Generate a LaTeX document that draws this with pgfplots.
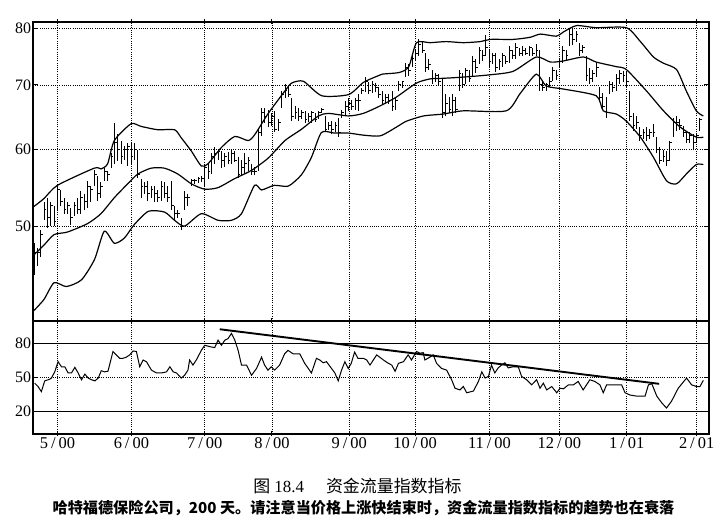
\documentclass[border=0pt]{standalone}
\usepackage{pgfplots}
\pgfplotsset{compat=1.18}
\usepackage{pgfplotstable}
\usepackage{fontspec}
\setmainfont{Liberation Serif}
\newfontfamily\cjk{Noto Sans CJK SC}
\pgfdeclareplotmark{rtick}{\pgfpathmoveto{\pgfpointorigin}\pgfpathlineto{\pgfpoint{\pgfplotmarksize}{0pt}}\pgfusepathqstroke}

\pgfplotstableread{
i h l c
0 48 44.5 47
1 47.5 45.5 47
2 49.5 46.5 49
3 53 50.7 52
4 53.5 49.8 51
5 53 50 52.5
6 52.5 50 50.5
7 55 52 54.5
8 54.5 52.5 53
9 53.5 51.5 52
10 53 51.5 52.5
11 52.2 50.1 51
12 53 51.2 52.5
13 53.5 51.5 52
14 54.4 51.5 53.5
15 54 52 53
16 55.7 52.2 55
17 55 53 54.5
18 57.1 55 56.5
19 56.4 53.1 54
20 55.5 53.5 55
21 57.4 55.7 57
22 57 55.7 56.5
23 59.5 57.4 59
24 63.9 58 61
25 62.3 58.4 60
26 61.3 58 59
27 60.5 58.5 60
28 61 57.7 60.5
29 61 58 59
30 61 58.5 60
31 60 56.1 56.5
32 56 53.5 55
33 55.5 54 55
34 55.7 53.1 54
35 55 53.5 54.5
36 55 53 54
37 54.5 53 53.5
38 55.7 53.1 55
39 55.5 53.5 54
40 55 53 53.5
41 55.7 51.9 52.5
42 52.5 50.7 51.5
43 52 51 51.5
44 51 49.5 50
45 54.4 51.9 53.5
46 54 52.5 53.5
47 56 55 55.7
48 56 55.3 55.8
49 56.2 55.4 56
50 56.3 55.5 56
51 58 55 57.5
52 58 56 57
53 59.5 56.6 59
54 60.3 58 59.5
55 60 58.5 59.8
56 59.8 57.4 58.5
57 59.5 57.5 59
58 59.6 58 58.5
59 60 58 59.5
60 59.8 58.2 58.5
61 58.9 56.1 56.5
62 58.5 56.5 57.5
63 59.5 56.6 58
64 59 57 58.5
65 58 56.5 57
66 57.5 56.5 57
67 63 57 62.5
68 66.3 62 65.5
69 66.3 63.9 65
70 66 63.3 64
71 65.5 63.5 65
72 65.8 62.5 63
73 64.5 62.7 64
74 69 66.3 68.5
75 70.1 67.9 69
76 69.8 68 68.5
77 67.9 64.2 65
78 66.5 64.5 65.5
79 66.3 64.2 65
80 66 64.5 65.5
81 65.8 63.9 64.5
82 65.5 64 65
83 65.8 63.9 65.5
84 65.5 64 64.5
85 65.8 64.5 65.5
86 66.3 65.4 66
87 65 62.7 63
88 64 62.8 63.5
89 64.2 62.3 63
90 64 62.5 63.5
91 64.7 61.8 62.5
92 66 64.7 65.5
93 67.4 65 66.5
94 67.9 65.8 67
95 67.5 66 66.5
96 67.9 66 67.5
97 68.5 65.8 67.5
98 69.5 68.5 69
99 71.4 68.8 70.5
100 70.5 68.5 69
101 70.6 68.7 70
102 70.3 68.8 69.5
103 69.6 67.9 68.5
104 69 66.9 67.5
105 68.5 67 68
106 68.5 66.9 67.5
107 69 65.8 66.5
108 68 66 67.5
109 70.6 69 70
110 70.6 69.5 70.5
111 73.8 71.4 73
112 73.5 71.5 72.5
113 75.5 73.1 74.5
114 76.2 74 75.5
115 78 75 77
116 77.5 75.5 76
117 75.6 72.1 73
118 74.5 72.5 73.5
119 72.6 70.2 71
120 72 70.5 71.5
121 71.8 69.8 70.5
122 71.1 64.7 65.5
123 68.5 65 67
124 68 65.5 66
125 68.5 65 67.5
126 68 65.5 66
127 72.6 69 72
128 72 69.5 70
129 72.9 70.2 72.5
130 72.5 70.5 71
131 75 71.4 74
132 74.5 72 73
133 76.6 73.5 76
134 76 74 75
135 78.9 75 76.5
136 76.2 73.1 74
137 75.5 73.5 75
138 75.6 72.1 73
139 74.5 72.5 74
140 75.6 73.1 75
141 75 73.5 74
142 76.8 73.8 76
143 76 74.5 75
144 77.4 74.4 76.5
145 76.5 75 75.5
146 76.8 75 76
147 76.5 75.2 75.5
148 76.8 75 76.5
149 76.5 75 75.5
150 77.1 75 76
151 76 69 70
152 70.6 69 69.5
153 70.3 69 70
154 71.4 69.6 70.5
155 73.1 70.7 72.5
156 72.5 70.8 71.5
157 74.7 72.9 74
158 76.8 73.8 76
159 76 74 75
160 79.9 76.8 79
161 79.9 77 78
162 79.5 77.5 79
163 77.4 75 76
164 77 75.5 76.5
165 75 70.7 71.5
166 72.9 70.2 71
167 72.5 70.5 72
168 73.8 71.4 73
169 69.6 67.4 68
170 68.7 66 66.5
171 68 64.7 65.5
172 70.6 68.5 70
173 70.5 68.8 69.5
174 71.8 69 71
175 72.6 70.2 72
176 72.3 70.5 71.5
177 72.1 69.6 70.5
178 69 64.2 65
179 65.4 62.7 63.5
180 65 63 64
181 63.3 61.3 62
182 63 61.5 62.5
183 63.3 61.3 62
184 63 61.5 62.5
185 63.8 61.8 62.5
186 61.8 59.5 60
187 60.3 58 58.5
188 60 58.2 59
189 59.8 57.7 58.5
190 61.3 58.4 61
191 64.7 61.8 64
192 65 62.7 64
193 64.5 62.8 63.5
194 63.5 61.8 62.5
195 62.7 60.9 61.5
196 62.5 61 62
197 62.3 60.1 61
198 62.3 60.9 62
199 64.7 62.7 64.5
}\price

\pgfplotstableread{
i v
0 52.4
3 53.4
7 55.1
18 57.4
20 57.3
22 58.0
24 61.3
29 63.8
32 63.4
37 62.9
42 62.9
44 61.7
47 59.8
50 57.7
52 58.0
56 60.3
60 61.9
64 61.3
66 62.2
70 65.4
75 69.0
77 70.3
80.5 70.6
86 68.2
94 68.4
98.4 70.4
102.3 71.4
104 71.8
109.2 72.1
112 73.1
114.3 77.4
118.4 77.4
123.2 77.6
128.3 77.4
133.4 77.6
136.4 78.0
143.2 78.0
148.3 78.4
151.3 79.0
156.1 78.6
158.2 79.4
162.1 80.6
168 80.2
177 80.2
181.2 77.6
185.1 74.8
188.1 73.7
192 72.6
194.9 69.0
197.9 65.8
200 65.0
}\bandU

\pgfplotstableread{
i v
0 46.7
3 47.8
6 49.0
10 49.3
16 50.3
20 51.5
24 53.5
28 55.3
31 56.6
35 57.4
39 57.4
43 56.6
47 55.3
51 54.6
55 54.8
60 56.0
65 57.1
70 58.8
75 61.3
80 63.0
85 65.0
88 65.4
94 65.0
98.4 65.4
103.5 66.6
108.3 68.0
114.3 70.3
118.4 71.0
122.3 71.1
128.3 71.3
136.4 71.7
143.2 72.3
150.1 74.8
154.3 73.9
158.2 74.1
164.2 74.8
168 73.9
174 73.1
177 72.6
183 69.0
188.1 65.8
193.1 63.3
197.9 61.8
200 61.8
}\bandM

\pgfplotstableread{
i v
0 40.9
3 42.0
6 43.7
9.7 43.3
14.2 44.0
18.1 46.2
21 49.4
24 48.0
27 48.6
30 50.2
34.2 51.8
39 51.7
42 50.7
45 50.0
50 51.5
55 50.7
59 50.7
62 51.5
65.9 55.1
68 54.5
71.8 55.1
76 55.0
79.9 56.5
82.9 58.9
85.9 62.5
89.8 62.4
94 62.4
98.4 62.1
103.5 62.0
108.3 63.3
111.3 64.2
116.4 65.0
122.3 65.3
128.3 65.8
141.1 65.8
145.3 68.6
150.1 71.8
153.1 69.8
158.2 69.3
168 68.2
170.1 65.8
174 65.3
177 64.2
181.2 61.8
185.1 58.9
189 55.7
192 55.3
194.9 56.6
197.9 57.9
200 57.9
}\bandL

\pgfplotstableread{
i v
0.2 45
1.2 42
2.2 37.5
3.2 47
4.7 48.5
5.2 49.5
6.2 55
7.2 64
8.2 59.5
9.2 59.5
10.2 54
11.2 54
12.2 59
13.2 54
14.2 48
15.2 53
16.2 49.5
17.2 48
18.2 47
19.2 49.5
20.1 56
21.1 55
22.1 55.5
23.6 73
24.6 70
25.6 67
26.6 67
27.6 68
28.6 70
29.6 73.5
30.6 73
31.6 59.5
32.6 65.5
33.6 64
35.1 56.5
36.6 54
38.1 54
39.6 55
40.6 59.5
41.6 55
42.6 54
44.0 49.5
45.0 52
46.0 56.5
46.5 65.5
47.5 61
48.5 65.5
50.0 74
51.0 78.5
53.0 77
54.0 76.5
55.0 83
56.0 78.5
57.0 83
58.0 84.5
59.0 89
60.0 83
61.0 74
62.0 61
63.5 61
65.0 52
66.5 58
68.0 68
68.9 61
69.9 56.5
70.9 59.5
71.9 56.5
73.4 61
74.9 71
75.9 74
77.4 71
79.4 71
80.9 62.5
82.9 54
84.4 67
85.4 65.5
86.4 63
87.4 64
88.9 58
89.9 54
90.9 47
91.9 56.5
92.9 64
93.9 58
94.8 62.5
95.8 72.5
96.8 67
98.4 67
99.4 65.5
100.4 61
102.4 70
104.4 65.5
105.9 62.5
106.9 61
107.9 55.5
108.9 62.5
110.4 64
111.8 70
112.8 65.5
114.3 73
115.3 71.5
116.3 72
116.8 65.5
118.3 68
119.3 70
120.3 62.5
121.8 58
123.3 56.5
124.8 48
125.8 40.5
127.3 39
128.3 42
129.3 36.5
131.3 38
132.8 46.5
133.8 55
134.8 49.5
135.8 51
136.7 61
137.7 54
138.7 58.5
139.7 61
140.7 63
141.7 58.5
143.2 59.5
144.7 59.5
145.7 51
147.2 48
148.7 43.5
150.2 48
151.2 40.5
152.2 45
153.2 39
154.7 42
156.2 36.5
157.2 40.5
158.2 40
159.7 43.5
161.2 43.5
162.6 46.5
164.1 39
166.1 48
167.6 46.5
169.1 43.5
170.1 36.5
171.1 43.5
174.1 43.5
175.6 43.5
176.6 36.5
178.1 34.5
180.1 33.5
182.6 33.5
183.6 43.5
184.6 44.5
186.1 33.5
187.6 27.5
189.0 23
190.5 29
192.5 40.5
195.0 49.5
196.5 43.5
198.0 42
199.0 42
200.0 47.5
}\mfi

\pgfplotsset{
  common/.style={
    scale only axis, width=676bp, anchor=south west,
    xmin=-0.3, xmax=201.7,
    xtick={7,29.1,51,71.1,94.2,113.9,136.1,157,177.1,198},
    xmajorgrids, ymajorgrids,
    major grid style={black, line width=0.55bp, dash pattern=on 1bp off 1.2bp},
    axis line style={black, line width=1.3bp},
    tick style={black, line width=1.1bp},
    major tick length=5bp,
    tick align=inside,
    xtick align=center,
    y tick label style={font=\fontsize{16}{16}\selectfont, xshift=1.5bp},
  }
}

\begin{document}
\begin{tikzpicture}
\useasboundingbox (0,0) rectangle (724bp,525bp);

\begin{axis}[common, at={(33bp,204bp)}, height=299bp,
  ymode=log, ymin=39.9, ymax=81.3,
  ytick={50,60,70,80}, yticklabels={50,60,70,80}, minor ytick={},
  xticklabels={}]
\addplot[black, only marks, mark=rtick, mark size=2.3bp, mark options={line width=0.9bp},
  error bars/.cd, y dir=both, y explicit, error mark=none,
  error bar style={line width=0.95bp, black}]
  table[x=i, y=c, y error plus expr=\thisrow{h}-\thisrow{c}, y error minus expr=\thisrow{c}-\thisrow{l}] {\price};
\addplot[black, line width=1.2bp, smooth, tension=0.4] table[x=i, y=v] {\bandU};
\addplot[black, line width=1.2bp, smooth, tension=0.4] table[x=i, y=v] {\bandM};
\addplot[black, line width=1.2bp, smooth, tension=0.4] table[x=i, y=v] {\bandL};
\end{axis}

\begin{axis}[common, at={(33bp,91bp)}, height=113bp,
  ymin=0, ymax=100, ytick={20,50,80}, yticklabels={20,50,80}, ymajorgrids=false,
  xticklabels={5\kern3bp/\kern3bp00, 6\kern3bp/\kern3bp00, 7\kern3bp/\kern3bp00, 8\kern3bp/\kern3bp00, 9\kern3bp/\kern3bp00, 10\kern3bp/\kern3bp00, 11\kern3bp/\kern3bp00, 12\kern3bp/\kern3bp00, 1\kern3bp/\kern3bp01, 2\kern3bp/\kern3bp01},
  x tick label style={font=\fontsize{16.5}{16.5}\selectfont, yshift=2bp}]
\addplot[black, line width=0.9bp] coordinates {(-0.3,80) (201.7,80)};
\addplot[black, line width=0.9bp] coordinates {(-0.3,20) (201.7,20)};
\addplot[black, line width=0.6bp, dash pattern=on 1bp off 1.2bp] coordinates {(-0.3,50) (201.7,50)};
\addplot[black, line width=1bp] table[x=i, y=v] {\mfi};
\addplot[black, line width=1.9bp] coordinates {(55.5,92.7) (186.8,44.4)};
\end{axis}

\node[anchor=center] at (357.5bp,39bp) {\fontsize{17}{17}\selectfont{\cjk 图}\kern4bp 18.4\hspace{22bp}{\cjk 资金流量指数指标}};
\node[anchor=center] at (363.5bp,17bp) {\cjk\bfseries\fontsize{15.2}{15.2}\selectfont 哈特福德保险公司，200 天。请注意当价格上涨快结束时，资金流量指数指标的趋势也在衰落};
\end{tikzpicture}
\end{document}
